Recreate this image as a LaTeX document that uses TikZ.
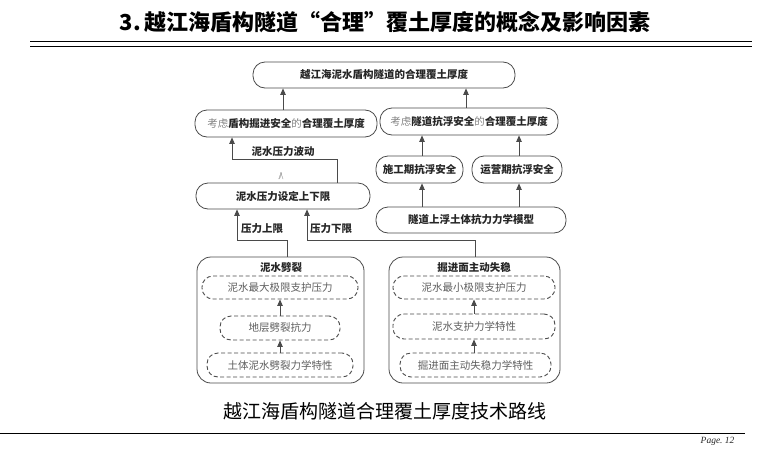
\documentclass[tikz,border=0pt]{standalone}
\usepackage{fontspec}
\newfontfamily\cjk{Noto Sans CJK SC}
\newfontfamily\pagefont{Liberation Serif}
\usetikzlibrary{arrows.meta}
\definecolor{linegray}{HTML}{4A4A4A}
\definecolor{txtdark}{HTML}{262626}
\definecolor{txtgray}{HTML}{5E5E5E}
\definecolor{txtlight}{HTML}{808080}
\begin{document}
\begin{tikzpicture}[x=1pt, y=-1pt,
  pill/.style={draw=linegray, line width=0.8pt, rounded corners=12pt, inner sep=0pt,
    text=txtdark, font=\cjk\fontsize{10.5}{12}\selectfont\bfseries},
  dpill/.style={draw=linegray, line width=0.9pt, dashed, dash pattern=on 4pt off 2.5pt,
    rounded corners=11pt, inner sep=0pt, text=txtgray, font=\cjk\fontsize{10.5}{12}\selectfont},
  grpbox/.style={draw=linegray, line width=0.8pt, rounded corners=14pt, inner sep=0pt},
  lbl/.style={text=txtdark, font=\cjk\fontsize{10.5}{12}\selectfont\bfseries, inner sep=1pt},
  arr/.style={draw=linegray, line width=0.8pt, -{Triangle[length=6.5pt, width=5.5pt]}}]
\useasboundingbox (0,0) rectangle (770,450);
\node[font=\cjk\fontsize{22}{24}\selectfont\bfseries, text=black] (title) at (385,22) {3.\,越江海盾构隧道“合理”覆土厚度的概念及影响因素};
\draw[line width=1.6pt, black] (30,41.5) -- (752,41.5);
\draw[line width=0.8pt, black] (30,46) -- (752,46);
\node[pill, minimum width=262pt, minimum height=26pt] (top) at (384,75) {越江海泥水盾构隧道的合理覆土厚度};
\node[pill, minimum width=182pt, minimum height=27pt] (lmid) at (286,123.5) {{\color{txtlight}\mdseries 考虑}盾构掘进安全{\color{txtlight}\mdseries 的}合理覆土厚度};
\node[pill, minimum width=178pt, minimum height=27pt] (rmid) at (469,121.5) {{\color{txtlight}\mdseries 考虑}隧道抗浮安全{\color{txtlight}\mdseries 的}合理覆土厚度};
\node[pill, minimum width=174pt, minimum height=26pt] (press) at (283,196) {泥水压力设定上下限};
\node[pill, minimum width=87pt, minimum height=27pt] (sg) at (419.5,169.5) {施工期抗浮安全};
\node[pill, minimum width=90pt, minimum height=27pt] (yy) at (517,169.5) {运营期抗浮安全};
\node[pill, minimum width=190pt, minimum height=26pt] (model) at (471,220) {隧道上浮土体抗力力学模型};
\node[grpbox, minimum width=167pt, minimum height=126pt] (grpL) at (280.5,320) {};
\node[grpbox, minimum width=171pt, minimum height=126pt] (grpR) at (474.5,320) {};
\node[lbl] (grpLt) at (281,267) {泥水劈裂};
\node[lbl] (grpRt) at (474,267) {掘进面主动失稳};
\node[dpill, minimum width=156pt, minimum height=23pt] (L1) at (280,287.5) {泥水最大极限支护压力};
\node[dpill, minimum width=120pt, minimum height=24pt] (L2) at (280,328) {地层劈裂抗力};
\node[dpill, minimum width=146pt, minimum height=24pt] (L3) at (280,365) {土体泥水劈裂力学特性};
\node[dpill, minimum width=162pt, minimum height=23pt] (R1) at (474,287.5) {泥水最小极限支护压力};
\node[dpill, minimum width=162pt, minimum height=25pt] (R2) at (474,326.5) {泥水支护力学特性};
\node[dpill, minimum width=151pt, minimum height=24pt] (R3) at (475.5,365) {掘进面主动失稳力学特性};
\draw[arr] ([xshift=-3pt]lmid.north) -- ([xshift=-3pt]lmid.north |- top.south);
\draw[arr] ([xshift=-3pt]rmid.north) -- ([xshift=-3pt]rmid.north |- top.south);
\draw[arr] ([xshift=2.5pt]sg.north) -- ([xshift=2.5pt]sg.north |- rmid.south);
\draw[arr] ([xshift=2pt]yy.north) -- ([xshift=2pt]yy.north |- rmid.south);
\draw[arr] ([xshift=2.5pt]sg.south |- model.north) -- ([xshift=2.5pt]sg.south);
\draw[arr] ([xshift=2pt]yy.south |- model.north) -- ([xshift=2pt]yy.south);
\draw[arr] ([xshift=54pt]press.north) -- ++(0,-23) -| ([xshift=-54pt]lmid.south);
\node[lbl] (fluct) at (283,152) {泥水压力波动};
\node[text=txtlight, font=\pagefont\fontsize{10}{10}\selectfont, inner sep=0pt] (ge) at (281,176) {/\kern-2pt/\kern-1.5pt\textbackslash};
\draw[arr] ([xshift=6.5pt]grpL.north) -- ++(0,-16) -| ([xshift=-46pt]press.south);
\draw[arr] ([xshift=0.5pt]grpR.north) -- ++(0,-16) -| ([xshift=24pt]press.south);
\node[lbl] (upper) at (262,229) {压力上限};
\node[lbl] (lower) at (331,229) {压力下限};
\draw[arr] (L2.north) -- (L1.south);
\draw[arr] (L3.north) -- (L2.south);
\draw[arr] (R2.north) -- (R1.south);
\draw[arr] ([xshift=-1.5pt]R3.north) -- ([xshift=-1.5pt]R3.north |- R2.south);
\node[font=\cjk\fontsize{19}{21}\selectfont, text=black] (caption) at (385,411) {越江海盾构隧道合理覆土厚度技术路线};
\draw[line width=1pt, black] (0,433) -- (745,433);
\node[font=\pagefont\fontsize{9.5}{10}\selectfont, text=txtdark, anchor=east] (page) at (738,441) {\itshape Page.\ 12};
\end{tikzpicture}
\end{document}
